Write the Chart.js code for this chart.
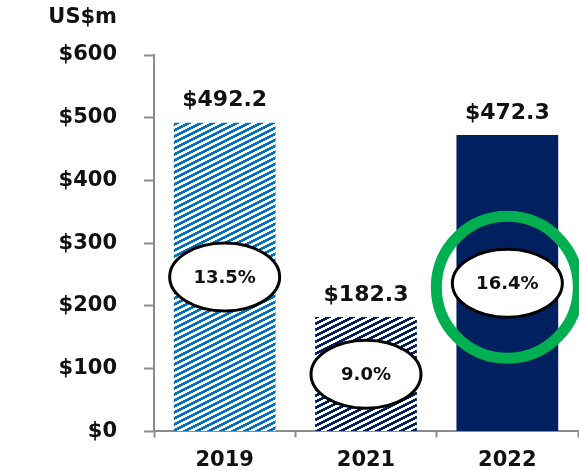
<!DOCTYPE html>
<html lang="en">
<head>
	<meta charset="utf-8">
	<title></title>
	<style>
body {
	margin: 0;
	background: #fff;
}
#chartWrapper {
	width: 579px;
	height: 471px;
}
	</style>
</head>
<body>

<div id="chartWrapper">
  <canvas id="myChart" width="579" height="471"></canvas>
</div>

<script src="https://cdn.jsdelivr.net/npm/chart.js"></script>
<script>
// values
const years = ['2019', '2021', '2022'];
const revenue = [492.2, 182.3, 472.3];
const margins = ['13.5%', '9.0%', '16.4%'];
const unitLabel = 'US$m';
const highlightYear = '2022';

const FONT = 'DejaVu Sans';

// diagonal stripe fill, like the office "wide upward diagonal" pattern
function stripes(color) {
	let c = document.createElement('canvas');
	c.width = 12;
	c.height = 6;
	let g = c.getContext('2d');
	g.fillStyle = '#fff';
	g.fillRect(0, 0, 12, 6);
	g.fillStyle = color;
	for(let x = 0; x < 12; x++) {
		for(let y = 0; y < 6; y++) {
			let d = ((x + 0.5) / 2 + (y + 0.5)) % 6;
			if(d < 3) g.fillRect(x, y, 1, 1);
		}
	}
	return g.createPattern(c, 'repeat');
}

const fills = [stripes('#0070c0'), stripes('#002060'), '#002060'];

const notes = {
	id: 'notes',
	afterDatasetsDraw(chart) {
		const ctx = chart.ctx;
		const xs = chart.scales.x;
		const ys = chart.scales.y;
		ctx.save();

		// unit label
		ctx.fillStyle = '#111';
		ctx.font = 'bold 21px "' + FONT + '"';
		ctx.textAlign = 'right';
		ctx.textBaseline = 'middle';
		ctx.fillText(unitLabel, 117, 18);

		revenue.forEach((v, i) => {
			let x = xs.getPixelForValue(i);
			let top = ys.getPixelForValue(v);

			// value above bar
			ctx.fillStyle = '#111';
			ctx.font = 'bold 22px "' + FONT + '"';
			ctx.textAlign = 'center';
			ctx.textBaseline = 'middle';
			ctx.fillText('$' + v.toFixed(1), x, top - 22);

			// margin badge halfway up the bar
			let cy = ys.getPixelForValue(v / 2);
			if(years[i] === highlightYear) {
				ctx.beginPath();
				ctx.arc(x, cy + 4, 71, 0, Math.PI * 2);
				ctx.strokeStyle = '#00b050';
				ctx.lineWidth = 11;
				ctx.stroke();
			}
			ctx.beginPath();
			ctx.ellipse(x, cy, 55, 34, 0, 0, Math.PI * 2);
			ctx.fillStyle = '#fff';
			ctx.fill();
			ctx.strokeStyle = '#000';
			ctx.lineWidth = 3;
			ctx.stroke();

			ctx.fillStyle = '#111';
			ctx.font = 'bold 18px "' + FONT + '"';
			ctx.fillText(margins[i], x, cy + 1);
		});
		ctx.restore();
	}
};

const ctx = document.getElementById('myChart');

new Chart(ctx, {
	type: 'bar',
	data: {
		labels: years,
		datasets: [{
			data: revenue,
			backgroundColor: fills,
			borderWidth: 0,
			barPercentage: 0.72,
			categoryPercentage: 1
		}]
	},
	options: {
		responsive: false,
		devicePixelRatio: 1,
		animation: false,
		layout: {
			padding: { top: 55, left: 0, right: 1, bottom: 0 }
		},
		plugins: {
			legend: { display: false },
			tooltip: { enabled: false }
		},
		scales: {
			x: {
				afterFit: s => { s.height = 37; },
				grid: {
					drawOnChartArea: false,
					tickLength: 6,
					tickWidth: 2,
					tickColor: '#8c8c8c'
				},
				border: { color: '#8c8c8c', width: 2 },
				ticks: {
					padding: 11,
					color: '#111',
					font: { family: FONT, size: 21, weight: 'bold' }
				}
			},
			y: {
				min: 0,
				max: 600,
				afterFit: s => { s.width = 154; },
				grid: {
					drawOnChartArea: false,
					tickLength: 10,
					tickWidth: 2,
					tickColor: '#8c8c8c'
				},
				border: { color: '#8c8c8c', width: 2 },
				ticks: {
					stepSize: 100,
					padding: 27,
					color: '#111',
					font: { family: FONT, size: 21, weight: 'bold' },
					callback: v => '$' + v
				}
			}
		}
	},
	plugins: [notes]
});
</script>
</body>
</html>
